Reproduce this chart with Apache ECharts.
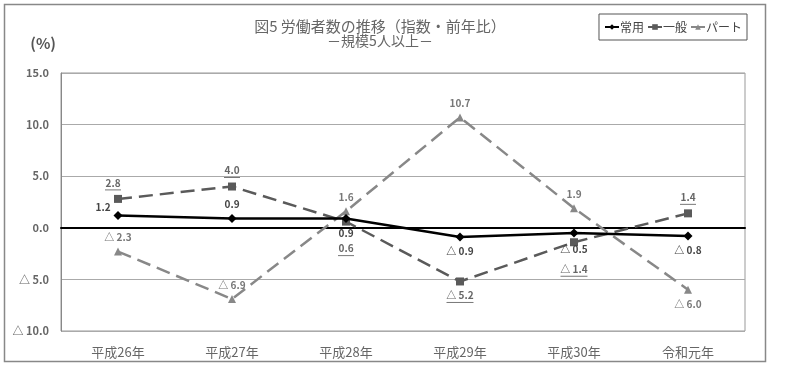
<!DOCTYPE html>
<html><head><meta charset="utf-8">
<script src="https://cdn.jsdelivr.net/npm/echarts@6/dist/echarts.min.js"></script>
<style>html,body{margin:0;padding:0;background:#fff}#c{width:800px;height:368px}</style>
</head><body><div id="c"></div>
<script>
const categories = ['平成26年','平成27年','平成28年','平成29年','平成30年','令和元年'];
const joyo = [1.2, 0.9, 0.9, -0.9, -0.5, -0.8];
const ippan = [2.8, 4.0, 0.6, -5.2, -1.4, 1.4];
const part = [-2.3, -6.9, 1.6, 10.7, 1.9, -6.0];
const seriesNames = ['常用','一般','パート'];

const joyoPos = [['top',[-15,6]],['top',[0,0]],['bottom',[0,0]],['bottom',[0,0]],['bottom',[0,2]],['bottom',[0,0]]];
const ippanPos = [['top',[-5,0]],['top',[0,0]],['bottom',[0,13]],['bottom',[0,0]],['bottom',[0,13]],['top',[0,0]]];
const partPos = [['top',[0,0]],['top',[0,0]],['top',[0,0]],['top',[0,0]],['top',[0,0]],['bottom',[0,0]]];

function fmt(v){ return v < 0 ? '△ ' + Math.abs(v).toFixed(1) : v.toFixed(1); }
function build(vals, pos){
  return vals.map((v,i)=>({value:v, label:{position:pos[i][0], offset:pos[i][1]}}));
}
const chart = echarts.init(document.getElementById('c'));
const font = '"Noto Sans CJK JP", "Noto Sans", sans-serif';
chart.setOption({
  animation:false,
  textStyle:{fontFamily:font},
  title:{
    text:'図5 労働者数の推移（指数・前年比）',
    subtext:'－規模5人以上－',
    left:375, top:14, textAlign:'center', itemGap:0,
    textStyle:{fontSize:15, fontWeight:'normal', color:'#666', fontFamily:font},
    subtextStyle:{fontSize:14, color:'#666', fontFamily:font}
  },
  legend:{
    data:seriesNames, right:53, top:14,
    itemWidth:14, itemHeight:7, itemGap:3,
    borderColor:'#555', borderWidth:1, padding:[7,5,7,5],
    textStyle:{fontSize:12, color:'#444', fontFamily:font, padding:[0,0,0,-4]}
  },
  graphic:[{type:'rect', shape:{x:4.5,y:4.5,width:761,height:357}, style:{fill:'none', stroke:'#888', lineWidth:1.5}, silent:true}],
  grid:{left:61, right:55, top:73, bottom:37, show:true, borderColor:'#999', borderWidth:1},
  xAxis:{
    type:'category', data:categories, boundaryGap:true,
    axisLine:{onZero:true, lineStyle:{color:'#000', width:2}},
    axisTick:{show:false},
    axisLabel:{fontSize:13, color:'#666', margin:15, fontFamily:font}
  },
  yAxis:{
    type:'value', min:-10, max:15, interval:5,
    name:'(%)', nameLocation:'end', nameGap:22,
    nameTextStyle:{align:'right', padding:[0,5,0,0], fontSize:15, fontWeight:'bold', color:'#555', fontFamily:font},
    axisLine:{show:true, lineStyle:{color:'#888'}},
    axisTick:{show:false},
    splitLine:{lineStyle:{color:'#aaa', width:1}},
    axisLabel:{formatter:fmt, fontSize:11, fontWeight:'bold', color:'#666', margin:12, fontFamily:font}
  },
  series:[
    {name:seriesNames[0], type:'line', data:build(joyo, joyoPos), z:5,
      symbol:'diamond', symbolSize:9,
      itemStyle:{color:'#000'}, lineStyle:{color:'#000', width:2.5},
      label:{show:true, formatter:p=>fmt(p.value), fontSize:10, fontWeight:'bold', color:'#444', distance:5}},
    {name:seriesNames[1], type:'line', data:build(ippan, ippanPos), z:4,
      symbol:'rect', symbolSize:8,
      itemStyle:{color:'#5a5a5a'}, lineStyle:{color:'#5a5a5a', width:2.5, type:[14,7]},
      label:{show:true, distance:4,
        formatter:p=>'{t|'+fmt(p.value)+'}\n' + (p.value < 0 ? '{uw|}' : '{u|}'),
        rich:{t:{fontSize:10, fontWeight:'bold', color:'#666', lineHeight:12, fontFamily:font},
              u:{height:1, width:16, backgroundColor:'#777', lineHeight:2},
              uw:{height:1, width:27, backgroundColor:'#777', lineHeight:2}}}},
    {name:seriesNames[2], type:'line', data:build(part, partPos), z:3,
      symbol:'triangle', symbolSize:8,
      itemStyle:{color:'#888'}, lineStyle:{color:'#888', width:2.5, type:[14,7]},
      label:{show:true, formatter:p=>fmt(p.value), fontSize:10, fontWeight:'bold', color:'#777', distance:5}}
  ]
});
</script></body></html>
